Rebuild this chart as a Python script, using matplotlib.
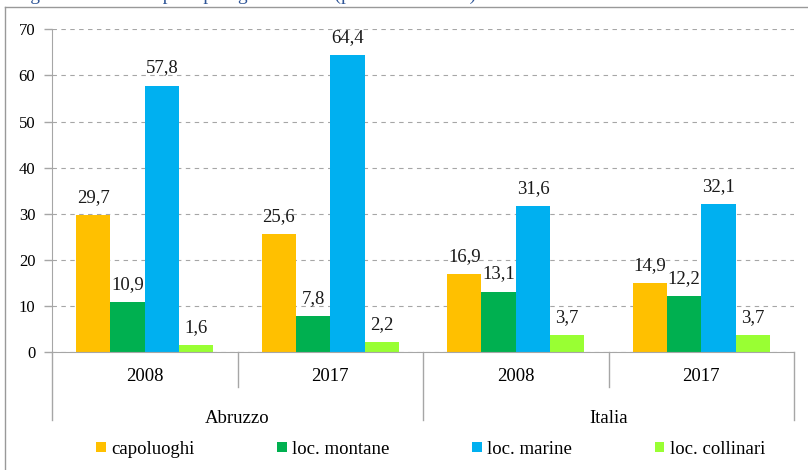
import matplotlib
matplotlib.use('Agg')
import matplotlib.pyplot as plt
import matplotlib.transforms as mtransforms
from matplotlib.patches import Patch
from matplotlib.lines import Line2D
import numpy as np

# ---- data ----
years = ['2008', '2017', '2008', '2017']
regions = ['Abruzzo', 'Italia']
series = ['capoluoghi', 'loc. montane', 'loc. marine', 'loc. collinari']
capoluoghi = [29.7, 25.6, 16.9, 14.9]
montane = [10.9, 7.8, 13.1, 12.2]
marine = [57.8, 64.4, 31.6, 32.1]
collinari = [1.6, 2.2, 3.7, 3.7]
yticks = [0, 10, 20, 30, 40, 50, 60, 70]
title = "Fig. 3 \u2013 Posti letto per tipologia turistica (pesi % sul totale)"

colors = ['#FFC000', '#00B050', '#00B0F0', '#99FF33']
GRAY = '#A6A6A6'
FONT = ['Liberation Serif', 'DejaVu Serif']

plt.rcParams['font.family'] = FONT

W, H = 808, 470
fig = plt.figure(figsize=(W / 100, H / 100), dpi=100)
ax_left, ax_right, ax_top, ax_bottom = 52, 794, 29.3, 352
ax = fig.add_axes([ax_left / W, 1 - ax_bottom / H, (ax_right - ax_left) / W,
                   (ax_bottom - ax_top) / H])

idx = np.arange(len(years))
width = 0.185
all_series = [capoluoghi, montane, marine, collinari]
for i, vals in enumerate(all_series):
    bars = ax.bar(idx + (i - 1.5) * width, vals, width, color=colors[i],
                  label=series[i], zorder=3, linewidth=0)
    ax.bar_label(bars, labels=[f"{v:.1f}".replace('.', ',') for v in vals],
                 padding=6.5, fontsize=13.5, family=FONT, color='#1a1a1a')

ax.set_xlim(-0.5, len(years) - 0.5)
ax.set_ylim(0, 70)
ax.set_yticks(yticks)
ax.set_yticklabels([str(t) for t in yticks], fontsize=12, family=FONT)
ax.set_xticks([])
ax.tick_params(axis='y', length=6, color=GRAY, width=1, pad=6)
ax.yaxis.grid(True, color=GRAY, linestyle=(0, (4, 4)), linewidth=0.8, zorder=0)
for s in ['top', 'right']:
    ax.spines[s].set_visible(False)
ax.spines['left'].set_color(GRAY)
ax.spines['bottom'].set_color(GRAY)
ax.spines['bottom'].set_zorder(4)

# two-level category axis
span = ax_bottom - ax_top
trans = mtransforms.blended_transform_factory(ax.transData, ax.transAxes)
y_inner = -(386.7 - ax_bottom) / span
y_outer = -(420 - ax_bottom) / span
for x in [0.5, 2.5]:
    ax.plot([x, x], [0, y_inner], transform=trans, color=GRAY, lw=1, clip_on=False)
for x in [-0.5, 1.5, 3.5]:
    ax.plot([x, x], [0, y_outer], transform=trans, color=GRAY, lw=1, clip_on=False)
for i, yr in enumerate(years):
    ax.text(i, -(380.7 - ax_bottom) / span, yr, transform=trans, ha='center',
            va='baseline', fontsize=13.5, family=FONT)
for j, reg in enumerate(regions):
    ax.text(2 * j + 0.5, -(423 - ax_bottom) / span, reg, transform=trans,
            ha='center', va='baseline', fontsize=13.5, family=FONT)

# legend
handles = [Patch(facecolor=colors[i], edgecolor='none', label=series[i])
           for i in range(len(series))]
fig.legend(handles=handles, loc='center', bbox_to_anchor=(0.533, 1 - 449 / H),
           ncol=4, frameon=False, handlelength=0.5, handleheight=0.5,
           handletextpad=0.3, columnspacing=4.4,
           prop={'family': FONT, 'size': 13.5})

# outer frame (partially visible)
fig.add_artist(Line2D([4.5 / W, 4.5 / W], [0, 1 - 7 / H], transform=fig.transFigure,
                      color='#999999', lw=1))
fig.add_artist(Line2D([4.5 / W, 1], [1 - 7 / H, 1 - 7 / H], transform=fig.transFigure,
                      color='#999999', lw=1))

# title, clipped at the very top as in the source image
fig.text(14 / W, 1 + 0.5 / H, title, color='#2F5597', fontsize=14,
         ha='left', va='baseline', family=FONT)

fig.savefig('out.png', dpi=100)
